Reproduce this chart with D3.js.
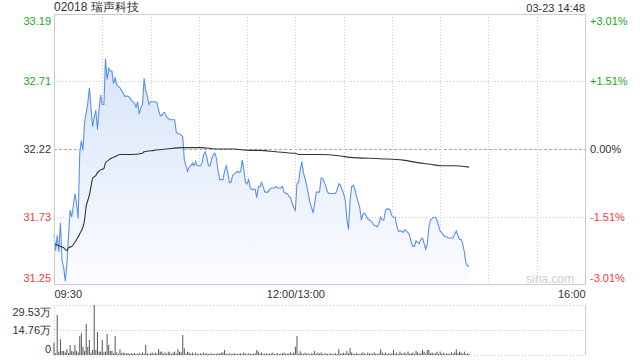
<!DOCTYPE html>
<html>
<head>
<meta charset="utf-8">
<script src="https://cdn.jsdelivr.net/npm/d3@7"></script>
<style>
  body { margin: 0; background: #fff; }
  svg { display: block; font-family: "Liberation Sans", Arial, sans-serif; }
</style>
</head>
<body>
<div id="root"></div>
<script>
// minute index from 09:30 (lunch 12:00-13:00 removed), 0..330
var timeTicks = [0, 150, 330];
var timeLabels = ["09:30", "12:00/13:00", "16:00"];
var gridMinutes = [30, 60, 90, 120, 150, 180, 210, 240, 270, 300];
var priceTicks = [33.19, 32.71, 32.22, 31.73, 31.25];
var pctLabels = ["+3.01%", "+1.51%", "0.00%", "-1.51%", "-3.01%"];
var volTicks = [29.53, 14.76, 0];
var volLabels = ["29.53万", "14.76万", "0"];
var preClose = 32.22;

// one price per trading minute, 09:30 .. 14:48
var price = [
  31.61, 31.49, 31.60, 31.48, 31.69, 31.42, 31.37, 31.27, 31.40, 31.59,
  31.78, 31.73, 31.81, 31.90, 31.83, 31.72, 32.19, 32.28, 32.21, 32.41,
  32.48, 32.55, 32.66, 32.52, 32.38, 32.45, 32.50, 32.36, 32.51, 32.61,
  32.54, 32.54, 32.87, 32.72, 32.80, 32.78, 32.78, 32.69, 32.73, 32.68,
  32.67, 32.66, 32.64, 32.62, 32.60, 32.60, 32.60, 32.59, 32.57, 32.56,
  32.55, 32.52, 32.56, 32.47, 32.52, 32.54, 32.73, 32.64, 32.60, 32.54,
  32.56, 32.56, 32.56, 32.56, 32.55, 32.50, 32.46, 32.46, 32.48, 32.48,
  32.45, 32.44, 32.43, 32.43, 32.43, 32.43, 32.34, 32.33, 32.33, 32.32,
  32.31, 32.14, 32.10, 32.06, 32.09, 32.10, 32.12, 32.10, 32.13, 32.10,
  32.10, 32.10, 32.12, 32.18, 32.20, 32.16, 32.10, 32.10, 32.15, 32.18,
  32.19, 32.15, 32.06, 32.00, 32.00, 32.00, 32.06, 32.10, 32.05, 31.98,
  31.98, 32.03, 32.04, 32.05, 32.06, 32.05, 32.06, 32.14, 32.07, 31.98,
  31.97, 32.00, 31.94, 31.93, 31.93, 31.93, 31.87, 31.95, 31.95, 31.98,
  31.95, 31.91, 31.91, 31.91, 31.93, 31.94, 31.94, 31.94, 31.95, 31.94,
  31.94, 31.94, 31.95, 31.91, 31.90, 31.90, 31.88, 31.87, 31.83, 31.80,
  31.78, 31.97, 31.98, 32.07, 32.13, 32.05, 32.01, 31.96, 31.90, 31.84,
  31.80, 31.76, 31.83, 31.91, 31.91, 31.91, 32.01, 32.01, 31.98, 31.95,
  31.91, 31.90, 31.90, 31.90, 31.90, 31.90, 31.93, 31.97, 31.96, 31.93,
  31.90, 31.85, 31.72, 31.64, 31.85, 31.95, 31.96, 31.93, 31.88, 31.84,
  31.80, 31.71, 31.75, 31.76, 31.74, 31.72, 31.71, 31.70, 31.69, 31.67,
  31.67, 31.66, 31.69, 31.73, 31.71, 31.71, 31.78, 31.79, 31.79, 31.78,
  31.74, 31.73, 31.73, 31.67, 31.63, 31.63, 31.63, 31.62, 31.64, 31.63,
  31.62, 31.60, 31.55, 31.52, 31.52, 31.56, 31.55, 31.54, 31.57, 31.58,
  31.54, 31.50, 31.54, 31.66, 31.71, 31.72, 31.73, 31.73, 31.71, 31.67,
  31.63, 31.62, 31.60, 31.59, 31.59, 31.58, 31.58, 31.58, 31.58, 31.61,
  31.63, 31.60, 31.57, 31.57, 31.54, 31.48, 31.40, 31.38, 31.38
];

// average price line, read at its turning points
var avgMin = [0, 2, 4, 6, 8, 9, 11, 13, 14, 16, 18, 19, 20, 21, 22, 23, 24, 26, 27, 29,
  31, 32, 34, 35, 37, 41, 48, 55, 56, 62, 70, 80, 91, 101, 111, 122, 128, 138, 149, 150,
  152, 165, 178, 184, 203, 217, 227, 234, 240, 248, 258];
var avgVal = [31.54, 31.53, 31.52, 31.51, 31.49, 31.51, 31.52, 31.55, 31.57, 31.61,
  31.66, 31.71, 31.81, 31.85, 31.89, 31.95, 32.01, 32.03, 32.05, 32.07,
  32.08, 32.12, 32.14, 32.15, 32.16, 32.18, 32.18, 32.19, 32.20, 32.21,
  32.22, 32.23, 32.23, 32.22, 32.22, 32.21, 32.21, 32.20, 32.19, 32.19,
  32.18, 32.18, 32.17, 32.16, 32.15, 32.14, 32.12, 32.11, 32.10, 32.10, 32.09];

// volume per minute, in 万 shares
var volume = [
  7.3, 1.0, 23.6, 2.0, 9.3, 2.4, 2.4, 1.5, 3.4, 1.2,
  5.9, 2.4, 2.0, 5.9, 2.4, 1.5, 11.2, 12.8, 4.9, 2.4,
  18.3, 4.9, 8.9, 1.4, 3.0, 29.53, 3.0, 13.6, 2.0, 2.0,
  8.9, 1.5, 2.0, 12.4, 5.9, 2.4, 2.4, 1.0, 11.2, 1.5,
  0.6, 3.4, 1.0, 1.5, 1.0, 0.8, 1.2, 0.6, 1.0, 0.8,
  1.2, 0.6, 0.8, 1.2, 0.6, 1.5, 0.8, 5.9, 1.0, 0.6,
  1.0, 1.5, 0.8, 1.4, 0.8, 3.4, 2.0, 2.0, 0.8, 1.5,
  0.8, 2.0, 1.5, 0.6, 1.5, 2.0, 0.8, 3.4, 2.0, 1.5,
  11.8, 4.0, 0.8, 2.0, 1.5, 0.8, 1.5, 0.6, 1.4, 0.8,
  0.6, 1.0, 0.8, 1.5, 0.8, 1.0, 0.6, 0.8, 1.0, 0.6,
  0.8, 0.6, 1.0, 1.0, 1.4, 1.5, 3.0, 0.8, 0.6, 1.0,
  0.8, 0.6, 1.0, 0.8, 0.6, 0.8, 1.0, 0.6, 1.5, 0.8,
  0.6, 1.0, 0.8, 0.6, 0.8, 1.0, 3.0, 2.0, 0.8, 1.5,
  0.6, 0.8, 1.0, 0.6, 0.8, 1.0, 1.4, 0.6, 0.8, 1.0,
  0.6, 0.8, 1.0, 1.4, 0.6, 0.8, 1.0, 1.5, 0.8, 1.5,
  4.9, 11.2, 0.8, 2.2, 1.0, 0.6, 1.4, 0.8, 1.0, 0.6,
  0.8, 1.0, 2.4, 0.6, 1.4, 0.8, 1.5, 0.6, 0.8, 1.0,
  0.6, 0.8, 1.0, 0.6, 0.8, 1.0, 0.6, 3.4, 0.8, 1.0,
  1.4, 0.8, 2.4, 1.0, 4.1, 1.5, 0.8, 0.6, 1.0, 0.8,
  0.6, 1.0, 1.5, 0.8, 0.6, 1.5, 0.8, 1.0, 0.6, 1.5,
  0.8, 0.6, 1.0, 3.4, 1.5, 0.8, 1.5, 0.6, 1.0, 0.8,
  1.0, 3.0, 0.8, 1.5, 0.6, 2.0, 0.8, 1.0, 1.5, 0.6,
  2.0, 0.8, 1.0, 1.5, 0.6, 2.4, 1.5, 0.8, 1.0, 3.0,
  2.0, 0.8, 3.0, 3.0, 1.0, 1.5, 0.8, 1.0, 2.0, 0.6,
  2.0, 0.8, 1.4, 0.6, 1.0, 0.8, 0.6, 1.5, 0.8, 1.5,
  3.4, 1.0, 2.0, 1.5, 0.8, 2.0, 0.6, 1.0, 0.8
];

var w = 640, h = 360;
var left = 54, right = 585;
var plotTop = 14, plotBottom = 284;
var volTop = 305, volBottom = 355;

var green = "#1ea51e", red = "#f03c3c", dark = "#333";
function tickColor(v) {
  if (Math.abs(v - preClose) < 0.005) return dark;
  return v > preClose ? green : red;
}

var svg = d3.select("#root").append("svg").attr("width", w).attr("height", h);

var x = d3.scaleLinear().domain([0, 330]).range([left, right]);
var y = d3.scaleLinear().domain([31.25, 33.19]).range([plotBottom, plotTop]);
var yv = d3.scaleLinear().domain([0, 29.53]).range([volBottom, volTop]);

// gradient for the area under the price line
var grad = svg.append("defs").append("linearGradient")
  .attr("id", "fillGrad").attr("gradientUnits", "userSpaceOnUse")
  .attr("x1", 0).attr("y1", y(33.0)).attr("x2", 0).attr("y2", plotBottom);
grad.append("stop").attr("offset", "0%").attr("stop-color", "#d5e2f8");
grad.append("stop").attr("offset", "100%").attr("stop-color", "#fbfcff");

// title and time stamp
svg.append("text").attr("x", left).attr("y", 11).attr("font-size", "12px").attr("fill", dark)
  .text("02018 瑞声科技");
svg.append("text").attr("x", right).attr("y", 12).attr("text-anchor", "end").attr("font-size", "11px").attr("fill", dark)
  .text("03-23 14:48");

// horizontal grid
svg.selectAll(".hgrid").data(priceTicks.slice(1, 4)).enter().append("line")
  .attr("x1", left).attr("x2", right)
  .attr("y1", function(d) { return Math.round(y(d)) + 0.5; })
  .attr("y2", function(d) { return Math.round(y(d)) + 0.5; })
  .attr("stroke", function(d) { return d === preClose ? "#aaa" : "#ccc"; })
  .attr("stroke-dasharray", function(d) { return d === preClose ? "3,2" : "1,2"; });

// vertical grid
svg.selectAll(".vgrid").data(gridMinutes).enter().append("line")
  .attr("x1", function(d) { return Math.round(x(d)) + 0.5; })
  .attr("x2", function(d) { return Math.round(x(d)) + 0.5; })
  .attr("y1", plotTop).attr("y2", plotBottom)
  .attr("stroke", "#ccc").attr("stroke-dasharray", "1,2");

// area + price line
var idx = d3.range(price.length);
var area = d3.area()
  .x(function(i) { return x(i); })
  .y0(plotBottom)
  .y1(function(i) { return y(price[i]); });
svg.append("path").datum(idx).attr("d", area).attr("fill", "url(#fillGrad)");

var line = d3.line()
  .x(function(i) { return x(i); })
  .y(function(i) { return y(price[i]); });
svg.append("path").datum(idx).attr("d", line)
  .attr("fill", "none").attr("stroke", "#5a90ee").attr("stroke-width", 1.1);

// average price line
var avgLine = d3.line()
  .x(function(i) { return x(avgMin[i]); })
  .y(function(i) { return y(avgVal[i]); })
  .curve(d3.curveMonotoneX);
svg.append("path").datum(d3.range(avgMin.length)).attr("d", avgLine)
  .attr("fill", "none").attr("stroke", "#333").attr("stroke-width", 1.1);

// frame of the price panel
svg.append("rect").attr("x", left + 0.5).attr("y", plotTop + 0.5)
  .attr("width", right - left).attr("height", plotBottom - plotTop)
  .attr("fill", "none").attr("stroke", "#ccc");

// watermark
svg.append("text").attr("x", 574).attr("y", 283).attr("text-anchor", "end")
  .attr("font-size", "12px").attr("fill", "#d0d0d0").text("sina.com");

// left price axis
var yAxisL = d3.axisLeft(y).tickValues(priceTicks).tickSize(0).tickPadding(3)
  .tickFormat(function(d) { return d.toFixed(2); });
var gl = svg.append("g").attr("transform", "translate(" + left + ",0)").call(yAxisL);
gl.select(".domain").remove();
gl.selectAll("text").attr("font-size", "11px").attr("font-family", null)
  .attr("fill", function(d) { return tickColor(d); })
  .attr("dy", function(d, i) { return i === 0 ? "0.95em" : (i === priceTicks.length - 1 ? "-0.25em" : "0.32em"); });

// right percentage axis
var yAxisR = d3.axisRight(y).tickValues(priceTicks).tickSize(0).tickPadding(5)
  .tickFormat(function(d, i) { return pctLabels[i]; });
var gr = svg.append("g").attr("transform", "translate(" + right + ",0)").call(yAxisR);
gr.select(".domain").remove();
gr.selectAll("text").attr("font-size", "11px").attr("font-family", null)
  .attr("fill", function(d) { return tickColor(d); })
  .attr("dy", function(d, i) { return i === 0 ? "0.95em" : (i === priceTicks.length - 1 ? "-0.25em" : "0.32em"); });

// time axis
var xAxis = d3.axisBottom(x).tickValues(timeTicks).tickSize(0).tickPadding(6)
  .tickFormat(function(d, i) { return timeLabels[i]; });
var gx = svg.append("g").attr("transform", "translate(0," + plotBottom + ")").call(xAxis);
gx.select(".domain").remove();
gx.selectAll("text").attr("font-size", "11px").attr("font-family", null).attr("fill", dark)
  .attr("text-anchor", function(d, i) { return i === 0 ? "start" : (i === timeTicks.length - 1 ? "end" : "middle"); });

// volume panel grid
svg.selectAll(".vol-h").data([29.53, 14.76, 0]).enter().append("line")
  .attr("x1", left).attr("x2", right)
  .attr("y1", function(d) { return Math.round(yv(d)) + 0.5; })
  .attr("y2", function(d) { return Math.round(yv(d)) + 0.5; })
  .attr("stroke", "#ccc").attr("stroke-dasharray", "1,2");
svg.append("line").attr("x1", left + 0.5).attr("x2", left + 0.5)
  .attr("y1", volTop).attr("y2", volBottom).attr("stroke", "#ccc").attr("stroke-dasharray", "1,2");
svg.append("line").attr("x1", right + 0.5).attr("x2", right + 0.5)
  .attr("y1", volTop).attr("y2", volBottom).attr("stroke", "#ccc");

// volume bars
svg.selectAll(".vbar").data(volume).enter().append("rect")
  .attr("x", function(d, i) { return x(i) - 0.5; })
  .attr("y", function(d) { return yv(d); })
  .attr("width", 1)
  .attr("height", function(d) { return volBottom - yv(d); })
  .attr("fill", "#555");

// volume axis
var vAxis = d3.axisLeft(yv).tickValues(volTicks).tickSize(0).tickPadding(3)
  .tickFormat(function(d, i) { return volLabels[i]; });
var gv = svg.append("g").attr("transform", "translate(" + left + ",0)").call(vAxis);
gv.select(".domain").remove();
gv.selectAll("text").attr("font-size", "11px").attr("font-family", null).attr("fill", dark)
  .attr("dy", function(d, i) { return i === 0 ? "0.95em" : (i === volTicks.length - 1 ? "-0.25em" : "0.32em"); });
</script>
</body>
</html>
